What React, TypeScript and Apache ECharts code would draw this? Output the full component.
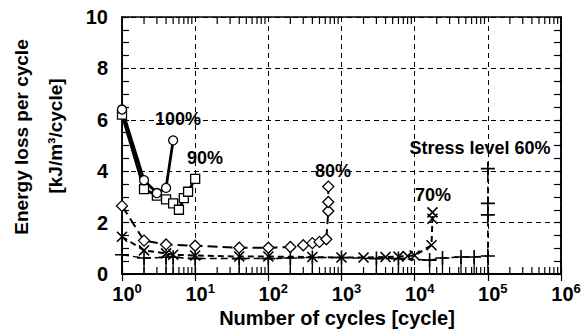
import React, { useEffect, useRef } from "react";
import * as echarts from "echarts";

// Axis ticks
const yTicks = [0, 2, 4, 6, 8, 10];
const minorMultipliers = [2, 3, 4, 5, 6, 7, 8, 9];
const decades = [0, 1, 2, 3, 4, 5];

// Stress level 100% (circles)
const n100 = [1, 2, 3, 4, 5];
const e100 = [6.4, 3.65, 3.15, 3.35, 5.2];
// Stress level 90% (squares)
const n90 = [1, 2, 3, 4, 5, 6, 7, 8, 10];
const e90 = [6.2, 3.3, 3.05, 2.9, 2.75, 2.5, 2.95, 3.2, 3.7];
// Stress level 80% (diamonds)
const n80 = [1, 2, 4, 10, 40, 100, 200, 300, 400, 500, 620, 660, 660, 660];
const e80 = [2.65, 1.3, 1.15, 1.1, 1.02, 1.02, 1.05, 1.12, 1.2, 1.25, 1.35, 2.45, 2.8, 3.4];
// Stress level 70% (crosses)
const n70 = [1, 2, 4, 5, 10, 40, 100, 400, 1000, 2000, 4000, 6000, 8000, 10000, 17000, 17500, 17500];
const e70 = [1.45, 0.92, 0.8, 0.75, 0.72, 0.68, 0.68, 0.66, 0.64, 0.64, 0.66, 0.68, 0.7, 0.72, 1.12, 2.15, 2.4];
// Stress level 60% (plus)
const n60 = [1, 2, 4, 5, 10, 40, 100, 200, 400, 1000, 3000, 6000, 16000, 24000, 43000, 65000, 100000, 100000, 100000, 100000];
const e60 = [0.75, 0.62, 0.65, 0.65, 0.6, 0.6, 0.6, 0.62, 0.64, 0.64, 0.6, 0.6, 0.54, 0.62, 0.66, 0.66, 0.7, 2.3, 2.75, 4.1];

const FONT = '"Liberation Sans", Arial, sans-serif';
const X_SYM = "path://M0,0L10,10M10,0L0,10";
const P_SYM = "path://M0,5L10,5M5,0L5,10";

function pairs(n: number[], e: number[]) {
  return n.map((v, i) => [v, e[i]]);
}

function lineSeries(n: number[], e: number[], symbol: string, size: number, lineType: any, width: number, filledPath: boolean) {
  return {
    type: "line",
    data: pairs(n, e),
    symbol,
    symbolSize: size,
    showSymbol: true,
    lineStyle: { color: "#000", width, type: lineType },
    itemStyle: {
      color: filledPath ? "#000" : "#fff",
      borderColor: "#000",
      borderWidth: filledPath ? 1.6 : 1.3,
    },
    z: 5,
  };
}

export default function App() {
  const ref = useRef<HTMLDivElement>(null);
  useEffect(() => {
    const chart = echarts.init(ref.current!, null, { renderer: "svg" });
    const minorData: number[][] = [];
    decades.forEach((d) => minorMultipliers.forEach((k) => minorData.push([k * Math.pow(10, d), 0])));
    const stems = pairs(n60, e60).filter((p) => p[1] < 1);

    chart.setOption({
      animation: false,
      backgroundColor: "#fff",
      grid: { left: 122, right: 24, top: 17, bottom: 62, show: true, borderColor: "#000", borderWidth: 1.5 },
      xAxis: [
        {
          type: "log",
          logBase: 10,
          min: 1,
          max: 1e6,
          splitNumber: 6,
          axisLine: { show: true, lineStyle: { color: "#000", width: 1.5 } },
          axisTick: { show: true, inside: true, length: 7, lineStyle: { color: "#000", width: 1.2 } },
          splitLine: { show: true, lineStyle: { color: "#000", width: 1, type: [5, 4] } },
          axisLabel: {
            margin: 8,
            color: "#000",
            padding: [0, 0, 0, 10],
            formatter: (v: number) => `{b|10}{s|${Math.round(Math.log10(v))}}`,
            rich: {
              b: { fontSize: 20, fontWeight: "bold", fontFamily: FONT, color: "#000", lineHeight: 24 },
              s: { fontSize: 13, fontWeight: "bold", fontFamily: FONT, color: "#000", verticalAlign: "top", lineHeight: 13 },
            },
          },
        },
        {
          type: "log",
          logBase: 10,
          min: 1,
          max: 1e6,
          splitNumber: 6,
          position: "top",
          axisLine: { show: true, lineStyle: { color: "#000", width: 1.5 } },
          axisTick: { show: true, inside: true, length: 7, lineStyle: { color: "#000", width: 1.2 } },
          splitLine: { show: false },
          axisLabel: { show: false },
        },
      ],
      yAxis: [
        {
          type: "value",
          min: yTicks[0],
          max: yTicks[yTicks.length - 1],
          interval: 2,
          axisLine: { show: true, lineStyle: { color: "#000", width: 1.5 } },
          axisTick: { show: true, inside: true, length: 7, lineStyle: { color: "#000", width: 1.2 } },
          minorTick: { show: true, splitNumber: 4, length: 7, lineStyle: { color: "#000", width: 1.2 } },
          splitLine: { show: true, lineStyle: { color: "#000", width: 1, type: [5, 4] } },
          axisLabel: { margin: 14, color: "#000", fontSize: 20, fontWeight: "bold", fontFamily: FONT },
        },
        {
          type: "value",
          min: yTicks[0],
          max: yTicks[yTicks.length - 1],
          interval: 2,
          position: "right",
          axisLine: { show: true, lineStyle: { color: "#000", width: 1.5 } },
          axisTick: { show: true, inside: true, length: 7, lineStyle: { color: "#000", width: 1.2 } },
          minorTick: { show: true, splitNumber: 4, length: 7, lineStyle: { color: "#000", width: 1.2 } },
          splitLine: { show: false },
          axisLabel: { show: false },
        },
      ],
      series: [
        {
          type: "custom",
          data: minorData,
          silent: true,
          z: 1,
          renderItem: (_p: any, api: any) => {
            const x = api.value(0);
            const b = api.coord([x, 0]);
            const t = api.coord([x, 10]);
            return {
              type: "group",
              children: [
                { type: "line", shape: { x1: b[0], y1: b[1], x2: b[0], y2: b[1] - 7 }, style: { stroke: "#000", lineWidth: 1.2 } },
                { type: "line", shape: { x1: t[0], y1: t[1], x2: t[0], y2: t[1] + 7 }, style: { stroke: "#000", lineWidth: 1.2 } },
              ],
            };
          },
        },
        {
          type: "custom",
          data: stems,
          silent: true,
          z: 2,
          renderItem: (_p: any, api: any) => {
            const p = api.coord([api.value(0), api.value(1)]);
            const b = api.coord([api.value(0), 0]);
            return { type: "line", shape: { x1: p[0], y1: p[1], x2: b[0], y2: b[1] }, style: { stroke: "#000", lineWidth: 1.3 } };
          },
        },
        lineSeries(n60, e60, P_SYM, 14, [7, 4], 1.5, true),
        lineSeries(n70, e70, X_SYM, 10, [6, 4], 2, true),
        lineSeries(n80, e80, "diamond", 11, [10, 5], 2, false),
        lineSeries(n90, e90, "rect", 9, "solid", 2.8, false),
        lineSeries(n100, e100, "circle", 9, "solid", 2.8, false),
      ],
      graphic: [
        { type: "text", x: 178, y: 119, style: { text: "100%", font: `bold 18px ${FONT}`, fill: "#000", align: "center", verticalAlign: "middle", textAlign: "center", textVerticalAlign: "middle" } },
        { type: "text", x: 205, y: 158, style: { text: "90%", font: `bold 18px ${FONT}`, fill: "#000", align: "center", verticalAlign: "middle", textAlign: "center", textVerticalAlign: "middle" } },
        { type: "text", x: 333, y: 171, style: { text: "80%", font: `bold 18px ${FONT}`, fill: "#000", align: "center", verticalAlign: "middle", textAlign: "center", textVerticalAlign: "middle" } },
        { type: "text", x: 433, y: 195, style: { text: "70%", font: `bold 18px ${FONT}`, fill: "#000", align: "center", verticalAlign: "middle", textAlign: "center", textVerticalAlign: "middle" } },
        { type: "text", x: 480, y: 148, style: { text: "Stress level 60%", font: `bold 18px ${FONT}`, fill: "#000", align: "center", verticalAlign: "middle", textAlign: "center", textVerticalAlign: "middle" } },
        { type: "text", x: 337, y: 318, style: { text: "Number of cycles [cycle]", font: `bold 20px ${FONT}`, fill: "#000", align: "center", verticalAlign: "middle", textAlign: "center", textVerticalAlign: "middle" } },
        { type: "text", x: 21, y: 137, rotation: Math.PI / 2, style: { text: "Energy loss per cycle", font: `bold 19px ${FONT}`, fill: "#000", align: "center", verticalAlign: "middle", textAlign: "center", textVerticalAlign: "middle" } },
        { type: "text", x: 55, y: 136, rotation: Math.PI / 2, style: { text: "[kJ/m³/cycle]", font: `bold 19px ${FONT}`, fill: "#000", align: "center", verticalAlign: "middle", textAlign: "center", textVerticalAlign: "middle" } },
      ],
    });
    return () => chart.dispose();
  }, []);
  return <div ref={ref} style={{ position: "absolute", left: 0, top: 0, width: 585, height: 336, background: "#fff" }} />;
}
